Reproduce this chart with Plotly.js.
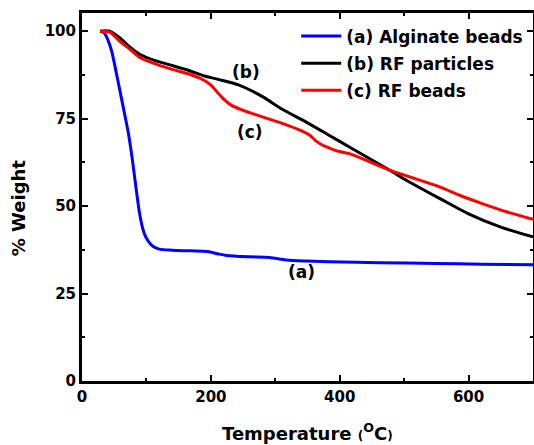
<!DOCTYPE html>
<html><head><meta charset="utf-8">
<script src="https://cdn.plot.ly/plotly-3.0.1.min.js"></script>
<style>html,body{margin:0;padding:0;background:#fff}#c{width:534px;height:445px}</style>
</head><body><div id="c"></div>
<script>
var seriesNames = ["(a) Alginate beads", "(b) RF particles", "(c) RF beads"];
var seriesColors = ["#0000ff", "#000000", "#ff0000"];

var tempA = [28, 34, 40, 46, 53, 61, 67, 72, 78, 84, 89, 93, 97, 102, 110, 120, 140, 170, 195, 210, 224, 260, 291, 317, 350, 384, 461, 550, 620, 700];
var weightA = [100, 99.6, 97.6, 94.3, 88.3, 81, 75.5, 70.8, 63.5, 55, 48.3, 44.5, 42, 40.2, 38.5, 37.7, 37.4, 37.2, 37, 36.4, 35.9, 35.5, 35.3, 34.6, 34.3, 34.1, 33.8, 33.6, 33.4, 33.2];

var tempB = [28, 43, 58, 74, 89.5, 115, 140, 167, 190, 210, 244, 280, 311.6, 350, 384, 415, 446, 477, 508, 555, 600, 650, 700];
var weightB = [100, 100, 98.2, 95.5, 93.4, 91.5, 90.2, 88.7, 87.2, 86.3, 84.6, 81.3, 77.6, 73.8, 70.2, 66.9, 63.6, 60.3, 56.9, 52.2, 47.8, 44, 41.2];

var tempC = [28, 43, 58, 74, 89.5, 115, 140, 167, 182.6, 192, 200, 208, 218.6, 232, 249.6, 280, 311.6, 340, 353, 364, 373.6, 384, 399.5, 415, 446, 477, 508, 555, 586, 620, 660, 700];
var weightC = [100, 99.7, 97.2, 94.9, 92.5, 90.6, 89.1, 87.7, 86.6, 85.7, 84.6, 83, 80.8, 78.8, 77.4, 75.5, 73.6, 71.6, 70.3, 68.5, 67.4, 66.6, 65.6, 65, 62.7, 60.3, 58.4, 55.5, 53.1, 50.8, 48.3, 46.2];

var labels = ["(b)", "(c)", "(a)"];
var labelX = [255, 260, 341];
var labelY = [88.3, 71.1, 31.1];

var xTickVals = [0, 200, 400, 600];
var yTickVals = [0, 25, 50, 75, 100];

var F = "DejaVu Sans, sans-serif";
function tr(x, y, i) {
  return {x: x, y: y, name: seriesNames[i], legendgroup: "g" + i, type: "scatter", mode: "lines",
    line: {color: seriesColors[i], width: 3, shape: "spline", smoothing: 0.8}};
}
var data = [tr(tempA, weightA, 0), tr(tempB, weightB, 1), tr(tempC, weightC, 2)];

var annotations = labels.map(function (t, i) {
  return {x: labelX[i], y: labelY[i], text: t, showarrow: false, xref: "x", yref: "y",
    font: {family: F, size: 17, color: "#000", weight: "bold"}};
});
annotations.push({xref: "paper", yref: "paper", x: 0.5, y: -0.138, xanchor: "center", yanchor: "middle",
  showarrow: false, font: {family: F, size: 18, color: "#000", weight: "bold"},
  text: "Temperature <span style='font-size:12px'>(</span><sup>O</sup>C<span style='font-size:12px'>)</span>"});
annotations.push({xref: "paper", yref: "paper", x: -0.142, y: 0.472, xanchor: "center", yanchor: "middle",
  textangle: -90, showarrow: false, font: {family: F, size: 18, color: "#000", weight: "bold"},
  text: "% Weight"});

var axisCommon = {
  showgrid: false, zeroline: false, showline: true, linecolor: "#000", linewidth: 3,
  mirror: "ticks", ticks: "inside", ticklen: 6, tickwidth: 2, tickcolor: "#000",
  tickfont: {family: F, size: 15, color: "#000", weight: "bold"}
};

var layout = {
  width: 534, height: 445,
  margin: {l: 82, r: 1, t: 13, b: 64},
  paper_bgcolor: "#fff", plot_bgcolor: "#fff",
  showlegend: true,
  legend: {x: 0.475, y: 0.985, xanchor: "left", yanchor: "top", bgcolor: "rgba(0,0,0,0)",
    font: {family: F, size: 17, color: "#000", weight: "bold"}, itemwidth: 40, tracegroupgap: 2},
  xaxis: Object.assign({}, axisCommon, {
    range: [0, 700], tickvals: xTickVals, ticktext: xTickVals.map(String),
    minor: {dtick: 100, tick0: 0, ticks: "inside", ticklen: 3, tickwidth: 2, tickcolor: "#000"}
  }),
  yaxis: Object.assign({}, axisCommon, {
    range: [0, 105.2], tickvals: yTickVals, ticktext: yTickVals.map(String),
    minor: {dtick: 12.5, tick0: 0, ticks: "inside", ticklen: 3, tickwidth: 2, tickcolor: "#000"}
  }),
  annotations: annotations
};
Plotly.newPlot("c", data, layout, {displayModeBar: false, staticPlot: true});
</script></body></html>
